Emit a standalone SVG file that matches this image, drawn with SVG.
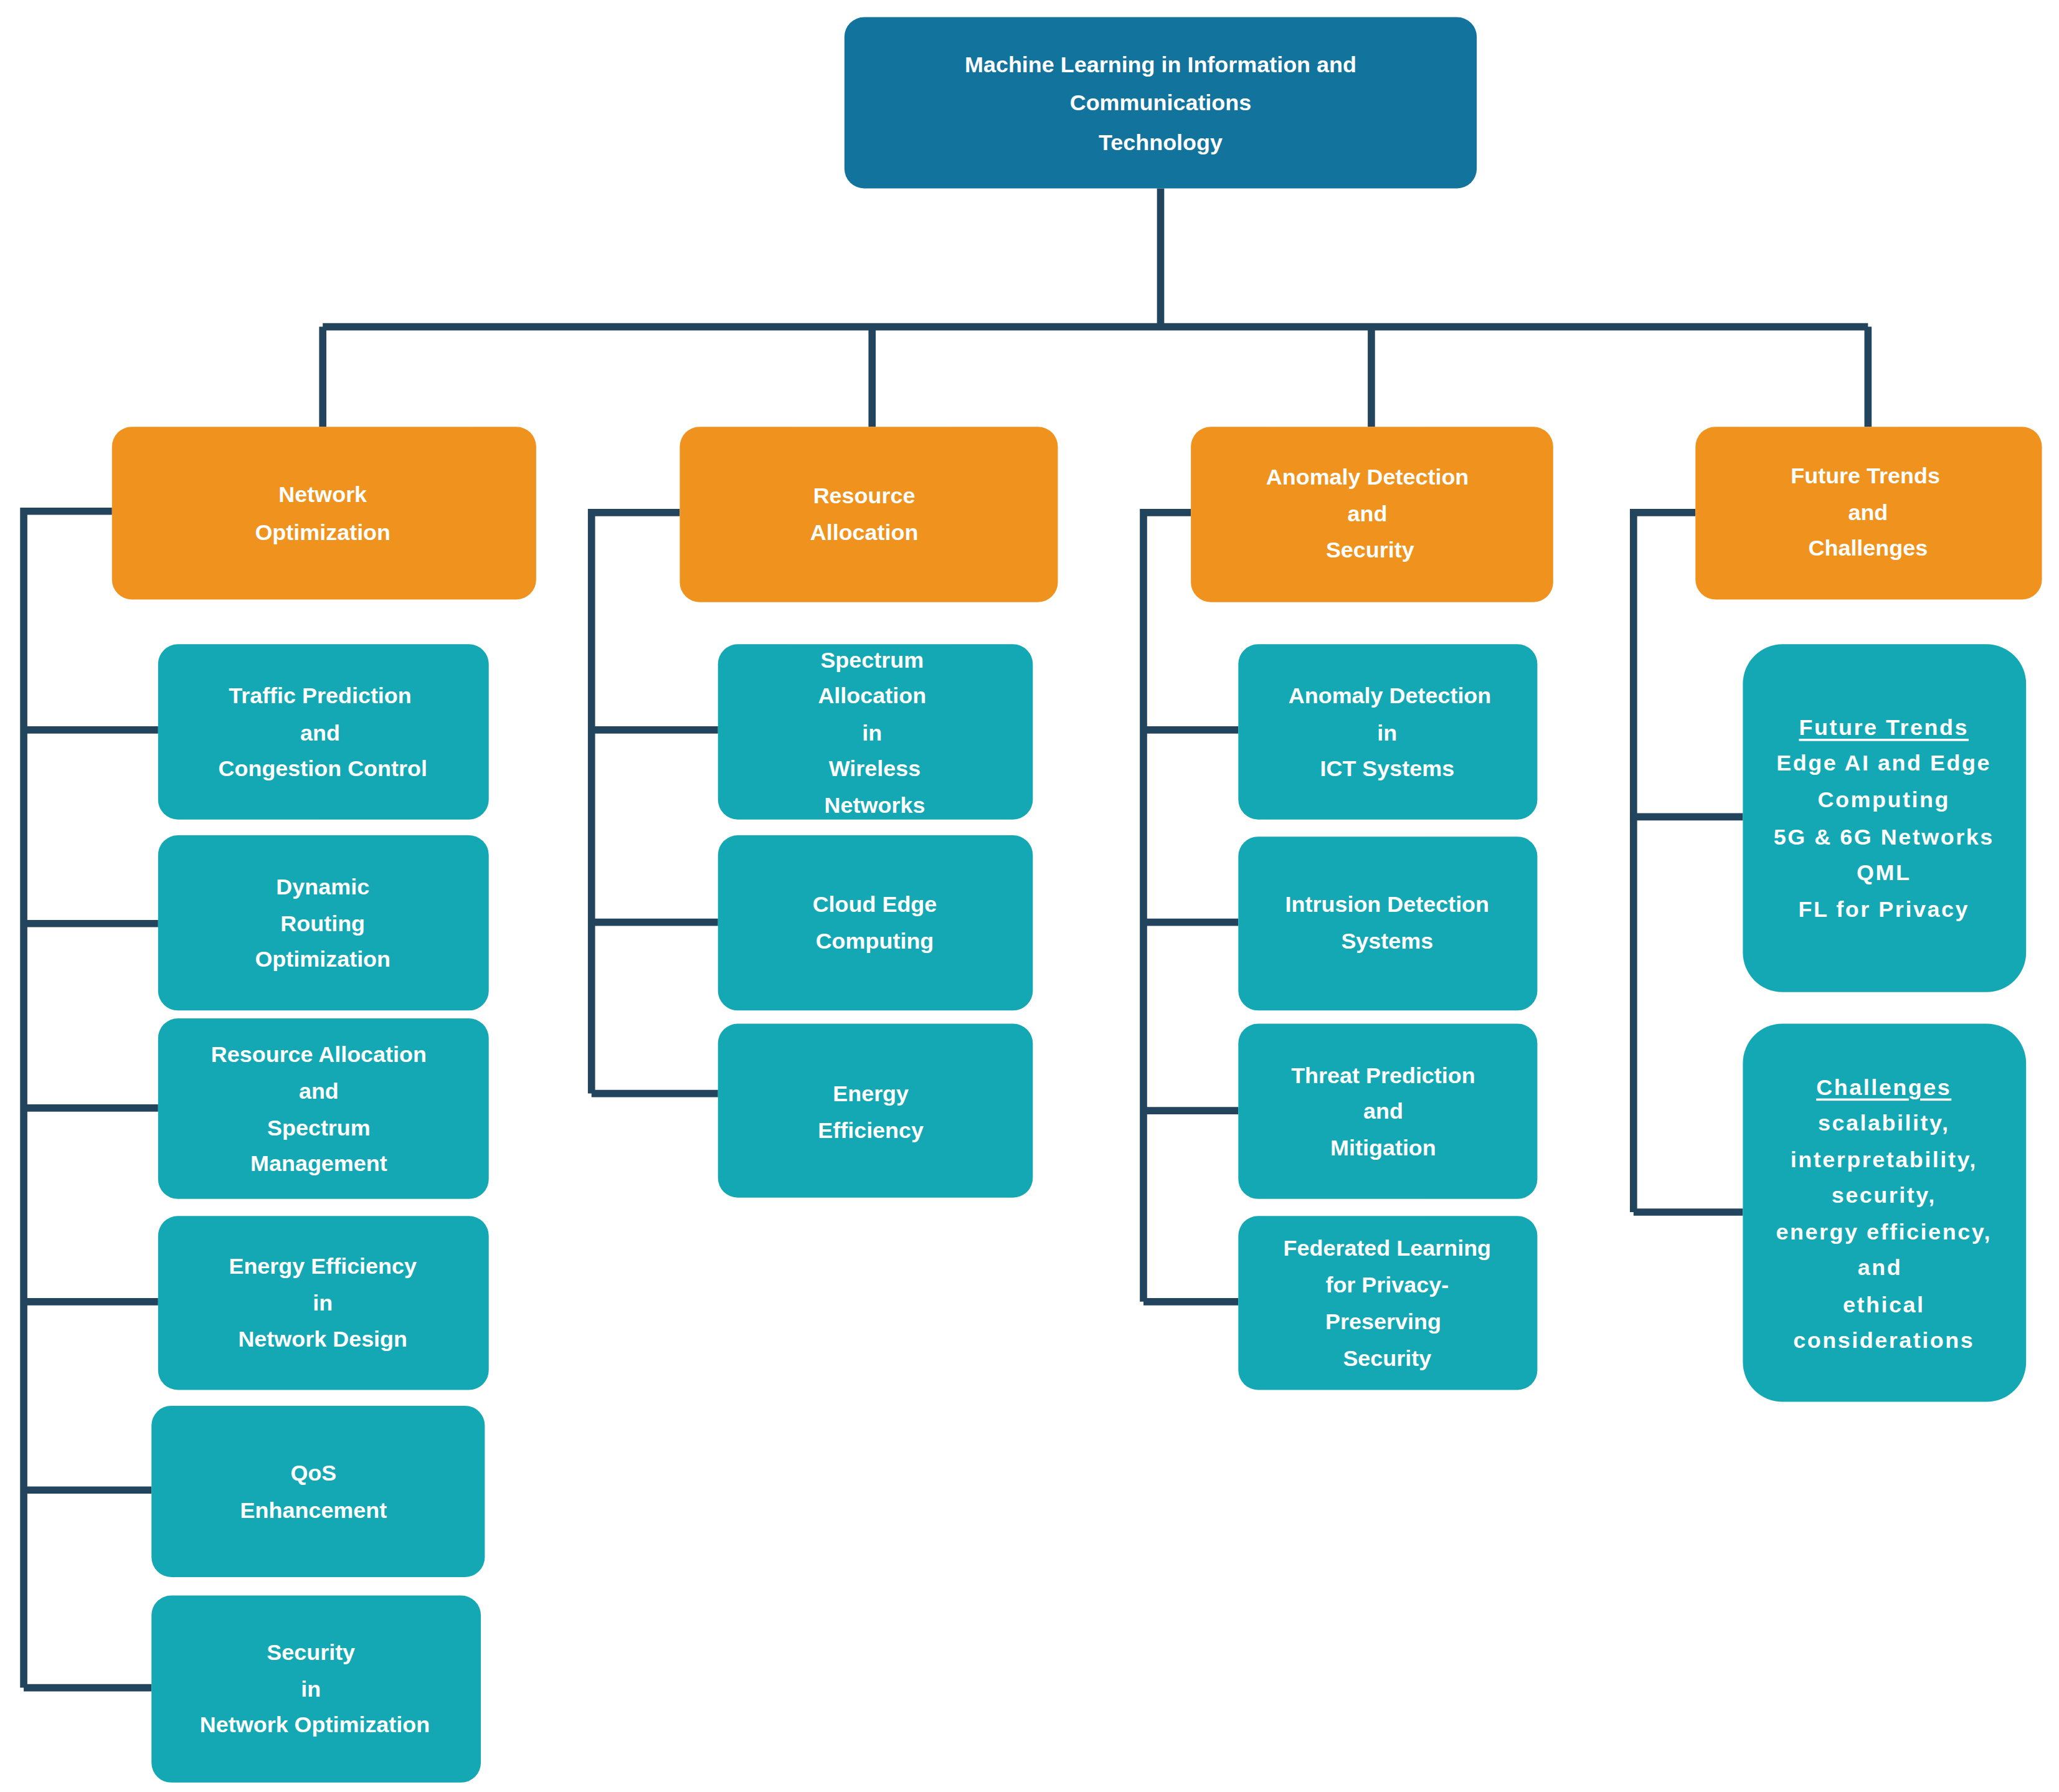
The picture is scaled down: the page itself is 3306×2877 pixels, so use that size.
<svg xmlns="http://www.w3.org/2000/svg" width="3306" height="2877" viewBox="0 0 3306 2877">
<style>
.root{fill:#12739D}.cat{fill:#F0931E}.leaf{fill:#13A8B3}
text{font-family:"Liberation Sans",Arial,sans-serif;font-weight:bold;font-size:17px;fill:#fff;text-anchor:middle;dominant-baseline:central}
.w{letter-spacing:1.2px}
.c{fill:none;stroke:#23445D;stroke-width:5.5}
</style>
<rect width="3306" height="2877" fill="#fff"/>
<g transform="scale(2.1152)">
<g id="connectors" class="c">
<path d="M881,143V248M245,248H1418M245,248V324M662,248V324M1041,248V324M1418,248V324"/>
<path d="M85,388H18V1281M18,554H120M18,701H120M18,841H120M18,988H120M18,1131H115M18,1281H115"/>
<path d="M516,389H449V830M449,554H545M449,700H545M449,830H545"/>
<path d="M904,389H868V988M868,554H940M868,700H940M868,843H940M868,988H940"/>
<path d="M1287,389H1240V920M1240,620H1323M1240,920H1323"/>
</g>
<g id="root"><rect class="root" x="641" y="13" width="480" height="130" rx="15"/><text x="881" y="49">Machine Learning in Information and</text><text x="881" y="78">Communications</text><text x="881" y="108">Technology</text></g>
<g id="netopt"><rect class="cat" x="85" y="324" width="322" height="131" rx="15"/><text x="245" y="375">Network</text><text x="245" y="404">Optimization</text></g>
<g id="resalloc"><rect class="cat" x="516" y="324" width="287" height="133" rx="15"/><text x="656" y="376">Resource</text><text x="656" y="404">Allocation</text></g>
<g id="anomaly"><rect class="cat" x="904" y="324" width="275" height="133" rx="15"/><text x="1038" y="362">Anomaly Detection</text><text x="1038" y="390">and</text><text x="1040" y="417">Security</text></g>
<g id="future"><rect class="cat" x="1287" y="324" width="263" height="131" rx="15"/><text x="1416" y="361">Future Trends</text><text x="1418" y="389">and</text><text x="1418" y="416">Challenges</text></g>
<g id="n1"><rect class="leaf" x="120" y="489" width="251" height="133" rx="15"/><text x="243" y="528">Traffic Prediction</text><text x="243" y="556">and</text><text x="245" y="583">Congestion Control</text></g>
<g id="n2"><rect class="leaf" x="120" y="634" width="251" height="133" rx="15"/><text x="245" y="673">Dynamic</text><text x="245" y="701">Routing</text><text x="245" y="728">Optimization</text></g>
<g id="n3"><rect class="leaf" x="120" y="773" width="251" height="137" rx="15"/><text x="242" y="800">Resource Allocation</text><text x="242" y="828">and</text><text x="242" y="856">Spectrum</text><text x="242" y="883">Management</text></g>
<g id="n4"><rect class="leaf" x="120" y="923" width="251" height="132" rx="15"/><text x="245" y="961">Energy Efficiency</text><text x="245" y="989">in</text><text x="245" y="1016">Network Design</text></g>
<g id="n5"><rect class="leaf" x="115" y="1067" width="253" height="130" rx="15"/><text x="238" y="1118">QoS</text><text x="238" y="1146">Enhancement</text></g>
<g id="n6"><rect class="leaf" x="115" y="1211" width="250" height="142" rx="15"/><text x="236" y="1254">Security</text><text x="236" y="1282">in</text><text x="239" y="1309">Network Optimization</text></g>
<g id="r1"><rect class="leaf" x="545" y="489" width="239" height="133" rx="15"/><text x="662" y="501">Spectrum</text><text x="662" y="528">Allocation</text><text x="662" y="556">in</text><text x="664" y="583">Wireless</text><text x="664" y="611">Networks</text></g>
<g id="r2"><rect class="leaf" x="545" y="634" width="239" height="133" rx="15"/><text x="664" y="686">Cloud Edge</text><text x="664" y="714">Computing</text></g>
<g id="r3"><rect class="leaf" x="545" y="777" width="239" height="132" rx="15"/><text x="661" y="830">Energy</text><text x="661" y="858">Efficiency</text></g>
<g id="a1"><rect class="leaf" x="940" y="489" width="227" height="133" rx="15"/><text x="1055" y="528">Anomaly Detection</text><text x="1053" y="556">in</text><text x="1053" y="583">ICT Systems</text></g>
<g id="a2"><rect class="leaf" x="940" y="635" width="227" height="132" rx="15"/><text x="1053" y="686">Intrusion Detection</text><text x="1053" y="714">Systems</text></g>
<g id="a3"><rect class="leaf" x="940" y="777" width="227" height="133" rx="15"/><text x="1050" y="816">Threat Prediction</text><text x="1050" y="843">and</text><text x="1050" y="871">Mitigation</text></g>
<g id="a4"><rect class="leaf" x="940" y="923" width="227" height="132" rx="15"/><text x="1053" y="947">Federated Learning</text><text x="1053" y="975">for Privacy-</text><text x="1050" y="1003">Preserving</text><text x="1053" y="1031">Security</text></g>
<g id="f1"><rect class="leaf" x="1323" y="489" width="215" height="264" rx="30"/><text class="w" x="1430" y="552" text-decoration="underline"> Future Trends</text><text class="w" x="1430" y="579">Edge AI and Edge</text><text class="w" x="1430" y="607">Computing</text><text class="w" x="1430" y="635">5G &amp; 6G Networks</text><text class="w" x="1430" y="662">QML</text><text class="w" x="1430" y="690">FL for Privacy</text></g>
<g id="f2"><rect class="leaf" x="1323" y="777" width="215" height="287" rx="30"/><text class="w" x="1430" y="825" text-decoration="underline">Challenges</text><text class="w" x="1430" y="852">scalability,</text><text class="w" x="1430" y="880">interpretability,</text><text class="w" x="1430" y="907">security,</text><text class="w" x="1430" y="935">energy efficiency,</text><text class="w" x="1427" y="962">and</text><text class="w" x="1430" y="990">ethical</text><text class="w" x="1430" y="1017">considerations</text></g>
</g>
</svg>
